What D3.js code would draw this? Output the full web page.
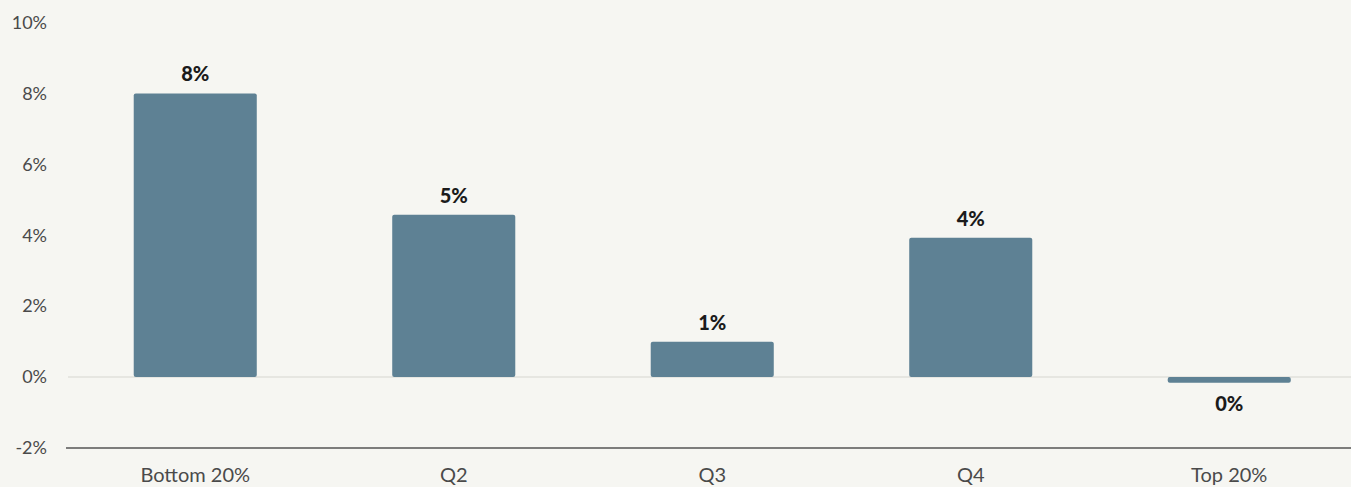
<!DOCTYPE html>
<html><head><meta charset="utf-8">
<script src="https://cdn.jsdelivr.net/npm/d3@7"></script>
<style>
html,body{margin:0;padding:0;background:#f6f6f2;}
svg{display:block;font-family:Lato, "Noto Sans", sans-serif;}
</style></head>
<body>
<svg id="chart" width="1351" height="487"></svg>
<script>
const categories = ["Bottom 20%", "Q2", "Q3", "Q4", "Top 20%"];
const values = [8.0, 4.58, 1.0, 3.93, -0.16];
const valueLabels = ["8%", "5%", "1%", "4%", "0%"];
const yTicks = [-2, 0, 2, 4, 6, 8, 10];

const svg = d3.select("#chart");
const W = 1351, H = 487;
svg.append("rect").attr("width", W).attr("height", H).attr("fill", "#f6f6f2");

const x = d3.scaleBand().domain(categories).range([66, 66 + 5 * 258.5])
  .paddingInner(0.524).paddingOuter(0.262);
const y = d3.scaleLinear().domain([-2, 10]).range([448, 22.5]);

// y tick labels
const yAxis = d3.axisLeft(y).tickValues(yTicks).tickFormat(d => d + "%").tickSize(0).tickPadding(0);
const ga = svg.append("g").attr("transform", "translate(47,0)").call(yAxis);
ga.select(".domain").remove();
ga.selectAll("text").attr("fill", "#4a4a4a").style("font-size", "18px").style("font-family", "Lato, sans-serif");

// zero gridline
svg.append("line").attr("x1", 68).attr("x2", W).attr("y1", y(0)).attr("y2", y(0))
  .attr("stroke", "#e6e6e1").attr("stroke-width", 2);

// bars
svg.selectAll("rect.bar").data(values).join("rect").attr("class", "bar")
  .attr("x", (d, i) => x(categories[i]))
  .attr("width", x.bandwidth())
  .attr("y", d => y(Math.max(0, d)))
  .attr("height", d => Math.abs(y(d) - y(0)))
  .attr("rx", 2)
  .attr("fill", "#5e8194");

// value labels
svg.selectAll("text.val").data(values).join("text").attr("class", "val")
  .attr("x", (d, i) => x(categories[i]) + x.bandwidth() / 2)
  .attr("y", d => d >= 0 ? y(d) - 12 : y(d) + 28)
  .attr("text-anchor", "middle")
  .attr("fill", "#1b1b1b")
  .style("font-size", "20px").style("font-weight", "900")
  .text((d, i) => valueLabels[i]);

// x axis
const xAxis = d3.axisBottom(x).tickSize(0).tickPadding(0);
const gx = svg.append("g").attr("transform", `translate(0,${y(-2)})`).call(xAxis);
gx.select(".domain").attr("stroke", "#555").attr("stroke-width", 1.5).attr("d", `M66,0H${W}`);
gx.selectAll("text").attr("y", 34).attr("dy", 0).attr("fill", "#4a4a4a")
  .style("font-size", "20px").style("font-family", "Lato, sans-serif");
</script>
</body></html>
